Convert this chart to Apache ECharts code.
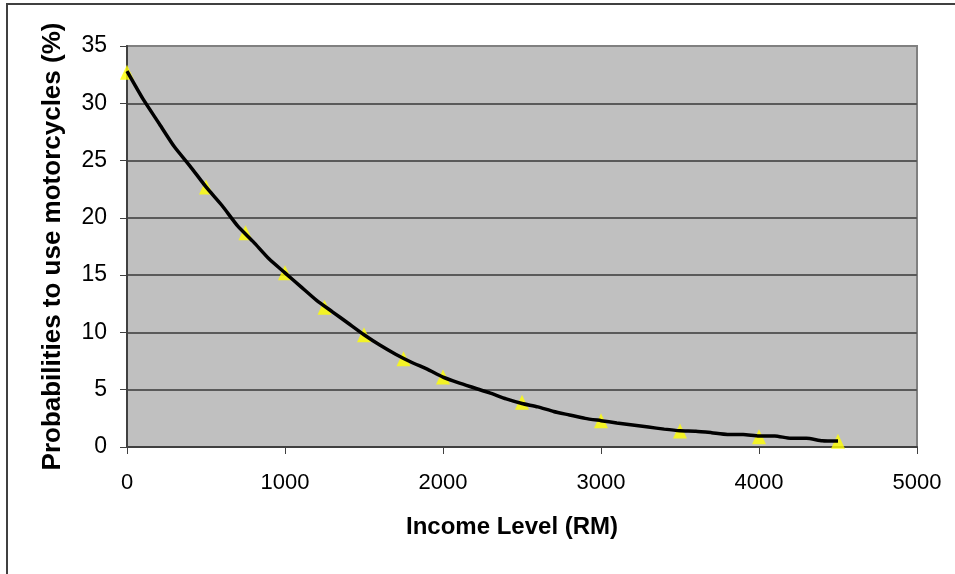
<!DOCTYPE html>
<html>
<head>
<meta charset="utf-8">
<script src="https://cdn.jsdelivr.net/npm/echarts@6/dist/echarts.min.js"></script>
<style>
html,body{margin:0;padding:0;background:#fff;}
#chart{width:955px;height:574px;}
</style>
</head>
<body>
<div id="chart"></div>
<script>
// Observed points (yellow triangles)
var markerIncome = [0, 500, 750, 1000, 1250, 1500, 1750, 2000, 2500, 3000, 3500, 4000, 4500];
var markerProb = [32.7, 22.7, 18.7, 15.2, 12.2, 9.8, 7.7, 6.1, 3.9, 2.3, 1.4, 0.9, 0.5];

// Fitted curve (black line)
var curveIncome = [0, 100, 200, 300, 400, 500, 600, 700, 800, 900,
  1000, 1100, 1200, 1300, 1400, 1500, 1600, 1700, 1800, 1900,
  2000, 2100, 2200, 2300, 2400, 2500, 2600, 2700, 2800, 2900,
  3000, 3100, 3200, 3300, 3400, 3500, 3600, 3700, 3800, 3900,
  4000, 4100, 4200, 4300, 4400, 4500];
var curveProb = [32.8, 30.4, 28.3, 26.2, 24.5, 22.7, 21.1, 19.3, 17.9, 16.4,
  15.2, 14.0, 12.8, 11.8, 10.8, 9.8, 8.9, 8.1, 7.4, 6.8,
  6.1, 5.6, 5.15, 4.7, 4.2, 3.8, 3.5, 3.1, 2.8, 2.5,
  2.3, 2.1, 1.92, 1.74, 1.56, 1.42, 1.38, 1.25, 1.1, 1.1,
  0.96, 0.96, 0.76, 0.76, 0.55, 0.52];

var xTitle = 'Income Level (RM)';
var yTitle = 'Probabilities to use motorcycles (%)';

var markerData = markerIncome.map(function (x, i) { return [x, markerProb[i]]; });
var curveData = curveIncome.map(function (x, i) { return [x, curveProb[i]]; });

var chart = echarts.init(document.getElementById('chart'), null, {renderer: 'canvas'});
var font = 'Liberation Sans, Arial, sans-serif';
chart.setOption({
  animation: false,
  backgroundColor: '#ffffff',
  graphic: [{
    type: 'rect',
    shape: {x: 7, y: 4, width: 1000, height: 700},
    style: {fill: 'none', stroke: '#404040', lineWidth: 2},
    silent: true, z: 0
  }],
  grid: {
    left: 127, right: 38, top: 46, bottom: 127,
    show: true, backgroundColor: '#C0C0C0', borderColor: '#808080', borderWidth: 2
  },
  xAxis: {
    type: 'value', min: 0, max: 5000, interval: 1000,
    name: xTitle, nameLocation: 'middle', nameGap: 68,
    nameTextStyle: {fontFamily: font, fontWeight: 'bold', fontSize: 24, color: '#000', padding: [0, 20, 0, 0]},
    axisLine: {show: true, onZero: false, lineStyle: {color: '#404040', width: 2}},
    axisTick: {show: true, length: 7, inside: false, lineStyle: {color: '#404040', width: 1}},
    axisLabel: {fontFamily: font, fontSize: 22, color: '#000', margin: 25,
      formatter: function (v) { return String(v); }},
    splitLine: {show: false}
  },
  yAxis: {
    type: 'value', min: 0, max: 35, interval: 5,
    name: yTitle, nameLocation: 'middle', nameGap: 61, nameRotate: 90,
    nameTextStyle: {fontFamily: font, fontWeight: 'bold', fontSize: 26, color: '#000'},
    axisLine: {show: true, onZero: false, lineStyle: {color: '#404040', width: 2}},
    axisTick: {show: true, length: 7, inside: false, lineStyle: {color: '#404040', width: 1}},
    axisLabel: {fontFamily: font, fontSize: 23, color: '#000', margin: 20,
      formatter: function (v) { return String(v); }},
    splitLine: {show: true, showMaxLine: false, lineStyle: {color: '#5a5a5a', width: 2}}
  },
  series: [
    {
      type: 'scatter', data: markerData,
      symbol: 'triangle', symbolSize: [14, 15],
      itemStyle: {color: '#FFFF00'}, z: 2
    },
    {
      type: 'line', data: curveData, showSymbol: false, symbol: 'none',
      smooth: 0.2,
      lineStyle: {color: '#000000', width: 3.5}, z: 3
    }
  ]
});
</script>
</body>
</html>
